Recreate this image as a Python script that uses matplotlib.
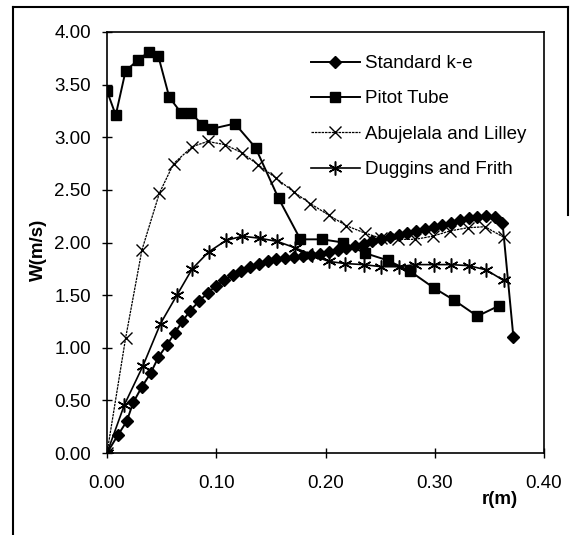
import matplotlib
matplotlib.use('Agg')
import matplotlib.pyplot as plt
from matplotlib.lines import Line2D

plt.rcParams.update({
    'font.family': ['Liberation Sans', 'DejaVu Sans'],
    'font.size': 13.5,
})

# --- Data (r in m, W in m/s) ---
ke_r = [0.000, 0.010, 0.018, 0.024, 0.032, 0.040, 0.047, 0.055, 0.062, 0.069,
        0.076, 0.084, 0.092, 0.100, 0.107, 0.115, 0.123, 0.131, 0.139, 0.147,
        0.155, 0.163, 0.171, 0.179, 0.187, 0.195, 0.203, 0.211, 0.219, 0.227,
        0.235, 0.243, 0.251, 0.259, 0.267, 0.275, 0.283, 0.291, 0.299, 0.307,
        0.315, 0.323, 0.331, 0.339, 0.347, 0.355, 0.362, 0.372]
ke_w = [0.00, 0.17, 0.30, 0.48, 0.63, 0.76, 0.91, 1.03, 1.14, 1.25,
        1.35, 1.44, 1.52, 1.59, 1.64, 1.69, 1.73, 1.77, 1.80, 1.82,
        1.84, 1.85, 1.86, 1.87, 1.88, 1.89, 1.91, 1.93, 1.95, 1.97,
        1.99, 2.01, 2.03, 2.05, 2.07, 2.09, 2.11, 2.13, 2.15, 2.17,
        2.19, 2.21, 2.23, 2.24, 2.25, 2.24, 2.19, 1.10]

pitot_r = [0.000, 0.008, 0.017, 0.028, 0.038, 0.047, 0.057, 0.068, 0.077, 0.087,
           0.096, 0.117, 0.136, 0.157, 0.177, 0.197, 0.216, 0.236, 0.257, 0.277,
           0.299, 0.318, 0.339, 0.359]
pitot_w = [3.44, 3.21, 3.63, 3.73, 3.81, 3.77, 3.38, 3.23, 3.23, 3.12,
           3.08, 3.13, 2.90, 2.42, 2.03, 2.03, 2.00, 1.90, 1.83, 1.73,
           1.57, 1.45, 1.30, 1.40]

abu_r = [0.000, 0.017, 0.032, 0.048, 0.061, 0.078, 0.092, 0.108, 0.124, 0.138,
         0.155, 0.171, 0.186, 0.203, 0.219, 0.236, 0.251, 0.266, 0.282, 0.298,
         0.314, 0.330, 0.346, 0.363]
abu_w = [0.00, 1.09, 1.93, 2.47, 2.75, 2.91, 2.96, 2.93, 2.85, 2.74,
         2.61, 2.48, 2.37, 2.26, 2.16, 2.09, 2.04, 2.03, 2.03, 2.06,
         2.11, 2.14, 2.15, 2.05]

dug_r = [0.000, 0.016, 0.033, 0.049, 0.064, 0.078, 0.093, 0.109, 0.124, 0.140,
         0.156, 0.172, 0.188, 0.203, 0.218, 0.235, 0.251, 0.267, 0.282, 0.299,
         0.315, 0.331, 0.347, 0.363]
dug_w = [0.00, 0.46, 0.83, 1.23, 1.50, 1.75, 1.91, 2.02, 2.06, 2.04,
         2.01, 1.95, 1.88, 1.82, 1.80, 1.79, 1.77, 1.77, 1.79, 1.79,
         1.79, 1.78, 1.74, 1.64]

X_TICKS = [0.0, 0.1, 0.2, 0.3, 0.4]
Y_TICKS = [0.0, 0.5, 1.0, 1.5, 2.0, 2.5, 3.0, 3.5, 4.0]

W, H = 571, 535
fig = plt.figure(figsize=(W / 100, H / 100), dpi=100)
ax = fig.add_axes([107 / W, 1 - 453 / H, (544 - 107) / W, (453 - 32) / H])

ax.plot(ke_r, ke_w, color='black', lw=1.4, marker='D', ms=6.5,
        label='Standard k-e')
ax.plot(pitot_r, pitot_w, color='black', lw=1.4, marker='s', ms=7.5,
        label='Pitot Tube')
ax.plot(abu_r, abu_w, color='black', lw=0.9, ls=(0, (2, 0.7)), marker='x',
        ms=9, mew=1.0, label='Abujelala and Lilley')
ax.plot(dug_r, dug_w, color='black', lw=1.2, marker=(6, 2, 0), ms=10,
        mew=1.1, label='Duggins and Frith')

ax.set_xlim(0, 0.4)
ax.set_ylim(0, 4.0)
ax.set_xticks(X_TICKS)
ax.set_yticks(Y_TICKS)
ax.set_xticklabels([f'{v:.2f}' for v in X_TICKS])
ax.set_yticklabels([f'{v:.2f}' for v in Y_TICKS])
ax.tick_params(direction='inout', length=7, width=1, labelsize=13.5)
ax.tick_params(axis='x', pad=12)
ax.tick_params(axis='y', pad=8)
for s in ax.spines.values():
    s.set_linewidth(1.2)

fig.text(38 / W, 1 - 250 / H, 'W(m/s)', rotation=90, ha='center', va='center',
         fontsize=13.5, fontweight='bold')
fig.text(500 / W, 1 - 500 / H, 'r(m)', ha='center', va='center',
         fontsize=13.5, fontweight='bold')

fig.legend(loc='upper left', bbox_to_anchor=(311 / W, 1 - 55 / H),
           frameon=False, handlelength=2.6, handletextpad=0.3,
           labelspacing=0.97, borderpad=0, borderaxespad=0, fontsize=13.5)

# outer frame of the scanned figure
fig.add_artist(Line2D([13 / W, 13 / W], [0, 1 - 7 / H], color='black', lw=1.5))
fig.add_artist(Line2D([13 / W, 568 / W], [1 - 7 / H, 1 - 7 / H], color='black', lw=1.5))
fig.add_artist(Line2D([568 / W, 568 / W], [1 - 7 / H, 1 - 215 / H], color='black', lw=1.5))

fig.savefig('out.png', dpi=100, facecolor='white')
